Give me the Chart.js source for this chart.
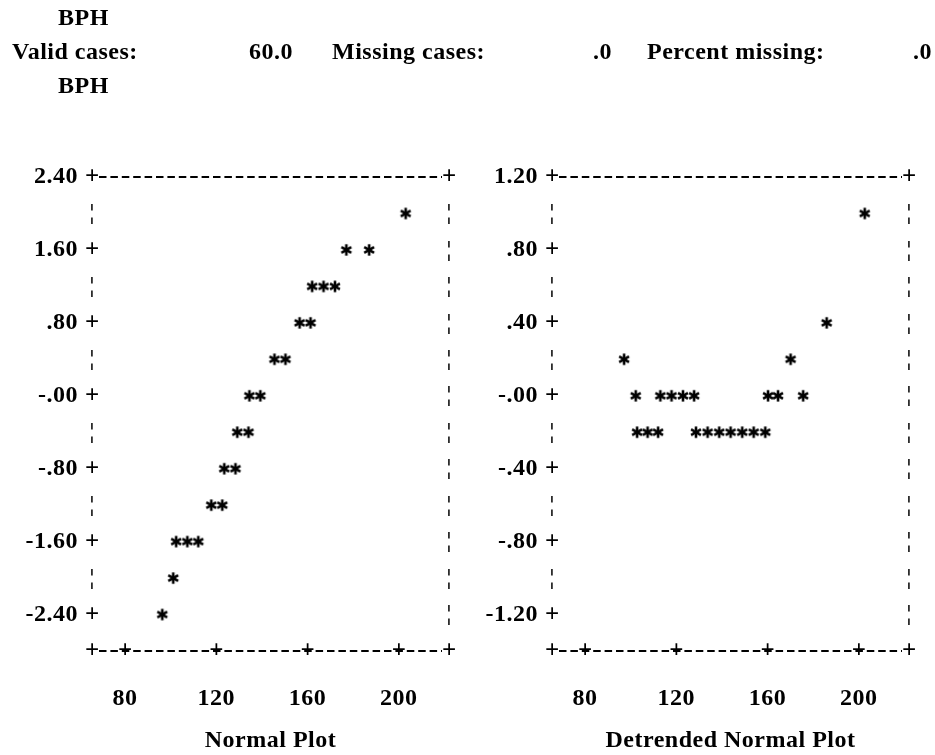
<!DOCTYPE html>
<html>
<head>
<meta charset="utf-8">
<script src="https://cdn.jsdelivr.net/npm/chart.js@4.4.1/dist/chart.umd.min.js"></script>
<style>
  html, body { margin: 0; padding: 0; background: #fff; }
  #page { position: relative; width: 935px; height: 755px; overflow: hidden; }
  canvas { position: absolute; top: 0; }
  .txt {
    position: absolute; font: bold 24px "Liberation Serif", serif; letter-spacing: 0.5px;
    color: #000; white-space: pre; line-height: 1; transform: translateY(-50%);
  }
</style>
</head>
<body>
<div id="page">
  <canvas id="normal" width="470" height="755" style="left:0"></canvas>
  <canvas id="detrended" width="465" height="755" style="left:470px"></canvas>
</div>
<script>
// x axis (BPH) - shared by both plots
const xTicks = [80, 120, 160, 200];
const xLabels = ["80", "120", "160", "200"];

// Normal plot
const normYTicks = [2.4, 1.6, 0.8, 0, -0.8, -1.6, -2.4];
const normYLabels = ["2.40", "1.60", ".80", "-.00", "-.80", "-1.60", "-2.40"];
const normX = [203, 177, 187, 162, 167, 172, 156.5, 161.3, 145.5, 150.3, 134.5, 139.3,
               129.2, 134.1, 123.5, 128.4, 117.8, 122.6, 102.4, 107.3, 112.1, 101.1, 96.3];
const normY = [2.0, 1.6, 1.6, 1.2, 1.2, 1.2, 0.8, 0.8, 0.4, 0.4, 0, 0,
               -0.4, -0.4, -0.8, -0.8, -1.2, -1.2, -1.6, -1.6, -1.6, -2.0, -2.4];

// Detrended normal plot
const detYTicks = [1.2, 0.8, 0.4, 0, -0.4, -0.8, -1.2];
const detYLabels = ["1.20", ".80", ".40", "-.00", "-.40", "-.80", "-1.20"];
const detX = [202.6, 185.9, 97.1, 170.1,
              102.2, 113.0, 117.9, 122.9, 127.8, 160.2, 164.6, 175.6,
              102.8, 107.4, 112.0, 128.6, 133.7, 138.8, 143.8, 148.9, 153.9, 159.0];
const detY = [1.0, 0.4, 0.2, 0.2,
              0, 0, 0, 0, 0, 0, 0, 0,
              -0.2, -0.2, -0.2, -0.2, -0.2, -0.2, -0.2, -0.2, -0.2, -0.2];

const INK = "#000";
const FONT = { family: '"Liberation Serif", serif', size: 24, weight: "bold" };

// header lines
const header = [
  { t: "BPH", left: 58, y: 17 },
  { t: "Valid cases:", left: 12, y: 51 },
  { t: "60.0", right: 293, y: 51 },
  { t: "Missing cases:", left: 332, y: 51 },
  { t: ".0", right: 612, y: 51 },
  { t: "Percent missing:", left: 647, y: 51 },
  { t: ".0", right: 932, y: 51 },
  { t: "BPH", left: 58, y: 85 },
];
const page = document.getElementById("page");
header.forEach(h => {
  const d = document.createElement("div");
  d.className = "txt";
  d.textContent = h.t;
  d.style.top = h.y + "px";
  if (h.left != null) d.style.left = h.left + "px";
  else d.style.right = (935 - h.right) + "px";
  page.appendChild(d);
});

// asterisk used as the point mark
const star = document.createElement("canvas");
star.width = star.height = 14;
const sc = star.getContext("2d");
sc.strokeStyle = INK;
sc.lineWidth = 2.6;
sc.translate(7, 7);
[90, 30, -30].forEach(a => {
  const r = a * Math.PI / 180;
  sc.beginPath();
  sc.moveTo(-5.7 * Math.cos(r), -5.7 * Math.sin(r));
  sc.lineTo(5.7 * Math.cos(r), 5.7 * Math.sin(r));
  sc.stroke();
});

// line-printer style frame: dashed edges, '+' at ticks, '¦' between
const asciiFrame = {
  id: "asciiFrame",
  beforeDraw(chart) {
    chart.ctx.letterSpacing = "0.5px";
  },
  afterDraw(chart, args, opts) {
    const { ctx, chartArea: a, scales: { x, y } } = chart;
    ctx.save();
    ctx.letterSpacing = "0px";
    ctx.fillStyle = INK;
    ctx.strokeStyle = INK;
    ctx.lineWidth = 1.8;
    ctx.setLineDash([7.5, 3.9]);
    [a.top, a.bottom].forEach(py => {
      ctx.beginPath();
      ctx.moveTo(a.left + 7, py);
      ctx.lineTo(a.right - 7, py);
      ctx.stroke();
    });
    ctx.setLineDash([]);
    ctx.textAlign = "center";
    ctx.textBaseline = "middle";
    const plus = (px, py) => {
      ctx.font = 'bold 25px "Liberation Serif", serif';
      ctx.fillText("+", px, py + 1);
    };
    const bar = (px, py) => {
      ctx.font = 'bold 22px "Liberation Serif", serif';
      ctx.fillText("\u00a6", px, py);
    };
    plus(a.left, a.top); plus(a.right, a.top);
    plus(a.left, a.bottom); plus(a.right, a.bottom);
    x.ticks.forEach(t => plus(x.getPixelForValue(t.value), a.bottom));
    const n = Math.round((y.max - y.min) / opts.step);
    for (let i = 1; i < n; i++) {
      const v = y.max - i * opts.step;
      const py = y.getPixelForValue(v);
      const isTick = y.ticks.some(t => Math.abs(t.value - v) < 1e-6);
      if (isTick) plus(a.left, py); else bar(a.left, py);
      bar(a.right, py);
    }
    ctx.restore();
  }
};

function makeChart(id, xs, ys, yTicks, yLabels, yMin, yMax, step, title, axisW, padRight) {
  return new Chart(document.getElementById(id), {
    type: "scatter",
    data: {
      datasets: [{
        data: xs.map((v, i) => ({ x: v, y: ys[i] })),
        pointStyle: star,
        pointRadius: 6,
        showLine: false,
      }],
    },
    options: {
      responsive: false,
      animation: false,
      events: [],
      layout: { padding: { top: 177, right: padRight, bottom: 0, left: 0 } },
      plugins: {
        legend: { display: false },
        tooltip: { enabled: false },
        asciiFrame: { step: step },
      },
      scales: {
        x: {
          type: "linear",
          min: 65.5,
          max: 222,
          grid: { display: false, drawTicks: false },
          border: { display: false },
          afterBuildTicks: s => { s.ticks = xTicks.map(v => ({ value: v })); },
          afterFit: s => { s.height = 104; },
          ticks: { autoSkip: false, maxRotation: 0, padding: 33, color: INK, font: FONT,
                   callback: (v, i) => xLabels[i] },
          title: { display: true, text: title, color: INK, font: FONT, padding: 0 },
        },
        y: {
          min: yMin,
          max: yMax,
          grid: { display: false, drawTicks: false },
          border: { display: false },
          afterBuildTicks: s => { s.ticks = yTicks.map(v => ({ value: v })); },
          afterFit: s => { s.width = axisW; },
          ticks: { autoSkip: false, padding: 14, color: INK, font: FONT,
                   callback: (v, i) => yLabels[i] },
        },
      },
    },
    plugins: [asciiFrame],
  });
}

makeChart("normal", normX, normY, normYTicks, normYLabels, -2.8, 2.4, 0.4, "Normal Plot", 92, 21);
makeChart("detrended", detX, detY, detYTicks, detYLabels, -1.4, 1.2, 0.2, "Detrended Normal Plot", 82, 26);
</script>
</body>
</html>
